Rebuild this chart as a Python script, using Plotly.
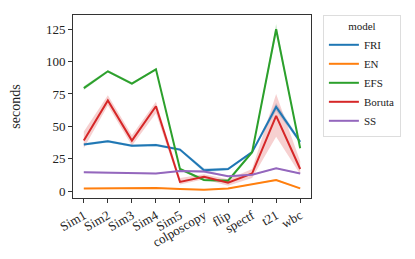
import plotly.graph_objects as go

categories = ["Sim1", "Sim2", "Sim3", "Sim4", "Sim5", "colposcopy", "flip", "spectf", "t21", "wbc"]

fri = [36, 38.5, 35, 35.5, 32, 16, 17, 30, 65, 38]
fri_lo = [35, 37.5, 34, 34.5, 31, 14.5, 16, 29, 62, 36.5]
fri_hi = [37, 39.5, 36, 36.5, 33, 17.5, 18, 31, 68, 39.5]

en = [2, 2.2, 2, 2.3, 1.5, 1, 2, 5.5, 8.5, 2]
en_lo = [1.6, 1.8, 1.6, 1.9, 1.1, 0.6, 1.6, 5, 7.8, 1.6]
en_hi = [2.4, 2.6, 2.4, 2.7, 1.9, 1.4, 2.4, 6, 9.2, 2.4]

efs = [79.5, 92.5, 83, 94, 17, 8.5, 8, 30, 125, 33]
efs_lo = [78, 91.5, 82, 93.5, 16, 7.5, 7, 29, 121, 32]
efs_hi = [81, 93.5, 84, 94.5, 18, 9.5, 9, 31, 129, 34]

boruta = [39, 70, 39, 65.5, 7, 11, 6.5, 13.5, 58, 17]
boruta_lo = [33, 66, 35, 60, 5, 9, 4, 10, 42, 13]
boruta_hi = [46, 74, 43, 69, 10, 13, 9, 17, 75, 23]

ss = [14.5, 14, 13.5, 13.5, 15.5, 15, 11.5, 12.5, 17.5, 13.5]
ss_lo = [14, 13.5, 13, 13, 15, 14, 11, 12, 17, 13]
ss_hi = [15, 14.5, 14, 14, 16, 16, 12, 13, 18, 14]

series = [
    ("FRI", fri, fri_lo, fri_hi, "#1f77b4", "rgba(31,119,180,0.25)"),
    ("EN", en, en_lo, en_hi, "#ff7f0e", "rgba(255,127,14,0.25)"),
    ("EFS", efs, efs_lo, efs_hi, "#2ca02c", "rgba(44,160,44,0.25)"),
    ("Boruta", boruta, boruta_lo, boruta_hi, "#d62728", "rgba(214,39,40,0.22)"),
    ("SS", ss, ss_lo, ss_hi, "#9467bd", "rgba(148,103,189,0.25)"),
]

fig = go.Figure()
for name, y, lo, hi, col, fcol in series:
    fig.add_trace(go.Scatter(
        x=categories + categories[::-1], y=hi + lo[::-1], fill="toself",
        fillcolor=fcol, line=dict(width=0), mode="lines",
        showlegend=False, hoverinfo="skip"))
for name, y, lo, hi, col, fcol in series:
    fig.add_trace(go.Scatter(x=categories, y=y, mode="lines", name=name,
                             line=dict(color=col, width=2)))

font = "Liberation Serif"
fig.update_layout(
    width=415, height=259,
    margin=dict(l=65, r=112, t=7, b=69, autoexpand=False),
    paper_bgcolor="white", plot_bgcolor="white",
    font=dict(family=font, size=13, color="#222"),
    legend=dict(
        title=dict(text="model", side="top center", font=dict(size=11)),
        x=1.05, y=1.0, xanchor="left", yanchor="top",
        bordercolor="#ddd", borderwidth=1, font=dict(size=11),
        tracegroupgap=0, itemwidth=30,
    ),
    xaxis=dict(
        type="category", tickangle=-30, showgrid=False, automargin=False,
        showline=True, linecolor="#333", linewidth=1, mirror=True,
        ticks="outside", ticklen=4, tickcolor="#333",
        range=[-0.45, 9.45], tickfont=dict(size=13),
    ),
    yaxis=dict(
        range=[-5.4, 136], showgrid=False, zeroline=False, automargin=False,
        showline=True, linecolor="#333", linewidth=1, mirror=True,
        ticks="outside", ticklen=4, tickcolor="#333",
        tickvals=[0, 25, 50, 75, 100, 125],
        title=dict(text="seconds", standoff=22, font=dict(size=14)),
        tickfont=dict(size=13),
    ),
)

fig.write_html("out.html")
